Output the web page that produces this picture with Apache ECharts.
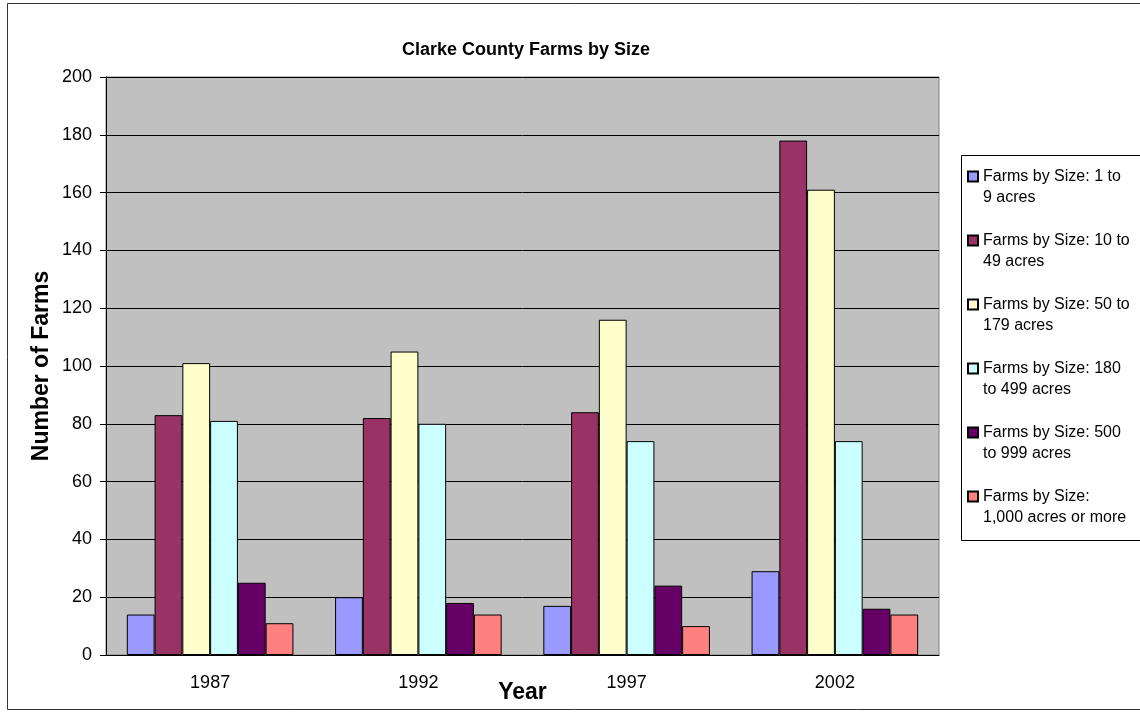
<!DOCTYPE html>
<html>
<head>
<meta charset="utf-8">
<script src="https://cdn.jsdelivr.net/npm/echarts@6/dist/echarts.min.js"></script>
<style>
  html, body { margin: 0; padding: 0; background: #fff; }
  #chart { width: 1140px; height: 712px; }
</style>
</head>
<body>
<div id="chart"></div>
<script>
const years = ['1987', '1992', '1997', '2002']
const sizeNames = [
  'Farms by Size: 1 to\n9 acres',
  'Farms by Size: 10 to\n49 acres',
  'Farms by Size: 50 to\n179 acres',
  'Farms by Size: 180\nto 499 acres',
  'Farms by Size: 500\nto 999 acres',
  'Farms by Size:\n1,000 acres or more',
]
const size1to9 = [14, 20, 17, 29]
const size10to49 = [83, 82, 84, 178]
const size50to179 = [101, 105, 116, 161]
const size180to499 = [81, 80, 74, 74]
const size500to999 = [25, 18, 24, 16]
const size1000plus = [11, 14, 10, 14]
const colors = ['#9999ff', '#993366', '#ffffcc', '#ccffff', '#660066', '#ff8080']

const font = '"Liberation Sans", Arial, sans-serif'
const seriesData = [size1to9, size10to49, size50to179, size180to499, size500to999, size1000plus]

const chart = echarts.init(document.getElementById('chart'))
chart.setOption({
  animation: false,
  color: colors,
  title: {
    text: 'Clarke County Farms by Size',
    left: 397,
    top: 36,
    textStyle: { fontFamily: font, fontSize: 18, fontWeight: 'bold', color: '#000' },
  },
  graphic: [
    {
      type: 'rect',
      shape: { x: 7.5, y: 3.5, width: 1150, height: 706 },
      style: { fill: 'none', stroke: '#333', lineWidth: 1 },
      silent: true,
    },
    {
      // legend frame
      type: 'rect',
      shape: { x: 961.5, y: 155.5, width: 200, height: 385 },
      style: { fill: '#fff', stroke: '#000', lineWidth: 1 },
      silent: true,
      z: -1,
    },
  ],
  legend: {
    orient: 'vertical',
    left: 967,
    top: 145,
    padding: 0,
    itemGap: 1,
    itemWidth: 10,
    itemHeight: 10,
    icon: 'rect',
    data: sizeNames,
    // blank first line so the marker sits on the first text line
    formatter: (name) => '\n' + name,
    textStyle: {
      fontFamily: font,
      fontSize: 16,
      color: '#000',
      lineHeight: 21,
    },
  },
  grid: {
    left: 106,
    right: 201,
    top: 77,
    bottom: 57,
    outerBoundsMode: 'none',
    show: true,
    backgroundColor: '#c0c0c0',
    borderColor: '#808080',
    borderWidth: 1,
  },
  xAxis: {
    type: 'category',
    data: years,
    name: 'Year',
    nameLocation: 'middle',
    nameGap: 26,
    nameMoveOverlap: false,
    nameTextStyle: { fontFamily: font, fontSize: 23, fontWeight: 'bold', color: '#000' },
    axisLine: { lineStyle: { color: '#000' } },
    axisTick: { length: 6, lineStyle: { color: '#000' } },
    axisLabel: { fontFamily: font, fontSize: 18, color: '#000', margin: 19 },
  },
  yAxis: {
    type: 'value',
    min: 0,
    max: 200,
    interval: 20,
    name: 'Number of Farms',
    nameLocation: 'middle',
    nameGap: 53,
    nameMoveOverlap: false,
    nameTextStyle: { fontFamily: font, fontSize: 23, fontWeight: 'bold', color: '#000' },
    axisLine: { show: true, lineStyle: { color: '#000' } },
    axisTick: { show: true, length: 6, lineStyle: { color: '#000' } },
    axisLabel: { fontFamily: font, fontSize: 18, color: '#000', margin: 14 },
    splitLine: { lineStyle: { color: '#000', width: 1 } },
  },
  series: sizeNames.map((name, i) => ({
    name,
    type: 'bar',
    data: seriesData[i],
    barGap: '0%',
    barCategoryGap: '20%',
    itemStyle: { color: colors[i], borderColor: '#000', borderWidth: 1 },
  })),
})
</script>
</body>
</html>
